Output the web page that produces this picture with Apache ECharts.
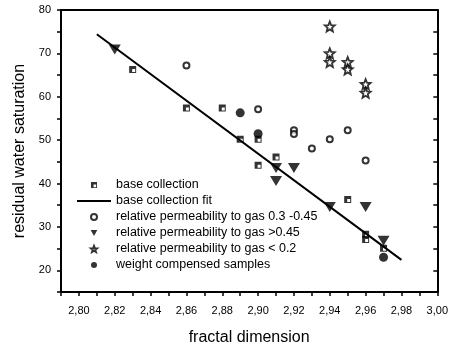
<!DOCTYPE html>
<html>
<head>
<meta charset="utf-8">
<script src="https://cdn.jsdelivr.net/npm/echarts@6/dist/echarts.min.js"></script>
<style>html,body{margin:0;padding:0;background:#fff}#c{width:451px;height:351px}</style>
</head>
<body>
<div id="c"></div>
<script>
var seriesNames = ['base collection','base collection fit','relative permeability to gas 0.3 -0.45','relative permeability to gas >0.45','relative permeability to gas < 0.2','weight compensed samples'];
var baseCollection = [[2.83,66.3],[2.86,57.4],[2.88,57.4],[2.89,50.2],[2.90,50.2],[2.90,44.2],[2.91,46.1],[2.95,36.3],[2.96,28.3],[2.96,27.1],[2.97,25.1]];
var baseFit = [[2.81,74.4],[2.98,22.4]];
var perm03to045 = [[2.86,67.2],[2.90,57.1],[2.92,52.3],[2.92,51.4],[2.93,48.1],[2.94,50.2],[2.95,52.3],[2.96,45.3]];
var permAbove045 = [[2.82,70.9],[2.91,43.6],[2.92,43.6],[2.91,40.6],[2.94,34.6],[2.96,34.6],[2.97,26.8]];
var permBelow02 = [[2.94,76.2],[2.94,70.0],[2.94,68.0],[2.95,68.0],[2.95,66.3],[2.96,62.9],[2.96,60.9]];
var weightCompensed = [[2.89,56.3],[2.90,51.5],[2.97,23.0]];

var FONT = "'Liberation Sans', Arial, sans-serif";
var SQ = 'path://M0,0H7V7H0Z M3,3V6H6V3Z';
var TRI = 'path://M0,0L10,0L5,9Z';
var STAR = 'path://M10,0L12.6,6.4L19.51,6.91L14.2,11.3L15.88,18.09L10,14.4L4.12,18.09L5.8,11.3L0.49,6.91L7.4,6.4Z';
var LINEICON = 'path://M0,0L0.01,0L0.01,0.01Z M0,2H34V4H0Z M0,6L0.01,6L0.01,5.99Z';

var chart = echarts.init(document.getElementById('c'), null, {renderer:'canvas'});
var axisLineStyle = {color:'#000', width:2};
chart.setOption({
  animation:false,
  backgroundColor:'#fff',
  grid:{left:61, right:11, top:10, bottom:52},
  legend:{
    orient:'vertical', left:77, top:177, padding:0, itemWidth:34, itemHeight:6, itemGap:0,
    textStyle:{fontFamily:FONT, fontSize:12.5, color:'#000', lineHeight:16},
    data:[
      {name:seriesNames[0]},
      {name:seriesNames[1], icon:LINEICON, itemStyle:{color:'#000'}},
      {name:seriesNames[2]},
      {name:seriesNames[3]},
      {name:seriesNames[4]},
      {name:seriesNames[5]}
    ]
  },
  xAxis:[{
    type:'value', min:2.79, max:3.00, interval:0.01, position:'bottom',
    name:'fractal dimension', nameLocation:'middle', nameGap:38,
    nameTextStyle:{fontFamily:FONT, fontSize:16, color:'#000'},
    axisLine:{lineStyle:axisLineStyle},
    axisTick:{length:4, lineStyle:{color:'#000', width:1.5}},
    splitLine:{show:false},
    axisLabel:{interval:0, margin:13, fontFamily:FONT, fontSize:11, color:'#000',
      formatter:function(v){var k=Math.round(v*100); return k%2===0 ? (k/100).toFixed(2).replace('.',',') : '';}}
  },{
    type:'value', min:2.79, max:3.00, interval:0.01, position:'top',
    axisLine:{lineStyle:axisLineStyle}, axisTick:{show:false}, axisLabel:{show:false}, splitLine:{show:false}
  }],
  yAxis:[{
    type:'value', min:15, max:80, interval:5, position:'left',
    name:'residual water saturation', nameLocation:'middle', nameGap:32,
    nameTextStyle:{fontFamily:FONT, fontSize:16, color:'#000'},
    axisLine:{lineStyle:axisLineStyle},
    axisTick:{length:4, lineStyle:{color:'#000', width:1.5}},
    splitLine:{show:false},
    axisLabel:{interval:0, margin:10, fontFamily:FONT, fontSize:11, color:'#000',
      formatter:function(v){return v%10===0 ? String(v) : '';}}
  },{
    type:'value', min:15, max:80, interval:5, position:'right',
    axisLine:{lineStyle:axisLineStyle},
    axisTick:{inside:true, length:4, lineStyle:{color:'#000', width:1.5}},
    axisLabel:{show:false}, splitLine:{show:false}
  }],
  series:[
    {name:seriesNames[0], type:'scatter', data:baseCollection, symbol:SQ, symbolSize:7,
      itemStyle:{color:'#000'}},
    {name:seriesNames[1], type:'line', data:baseFit, symbol:'none', showSymbol:false,
      lineStyle:{color:'#000', width:2}, itemStyle:{color:'#000'}},
    {name:seriesNames[2], type:'scatter', data:perm03to045, symbol:'circle', symbolSize:6,
      itemStyle:{color:'#fff', borderColor:'#000', borderWidth:2}},
    {name:seriesNames[3], type:'scatter', data:permAbove045, symbol:TRI, symbolSize:[12,10],
      itemStyle:{color:'#000'}},
    {name:seriesNames[4], type:'scatter', data:permBelow02, symbol:STAR, symbolSize:[10,10],
      itemStyle:{color:'#fff', borderColor:'#000', borderWidth:1.8}},
    {name:seriesNames[5], type:'scatter', data:weightCompensed, symbol:'circle', symbolSize:9,
      itemStyle:{color:'#000'}}
  ]
});
</script>
</body>
</html>
